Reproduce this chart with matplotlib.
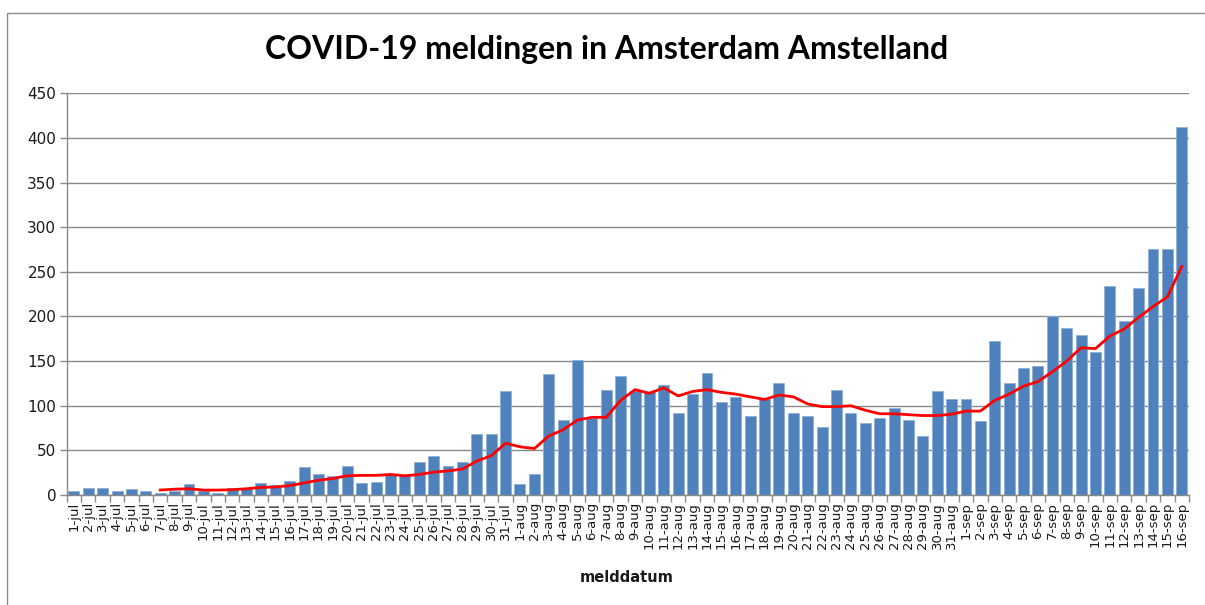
import matplotlib
matplotlib.use("Agg")
import matplotlib.pyplot as plt
from matplotlib.patches import Rectangle
from matplotlib.ticker import FixedLocator

dates = ("1-jul 2-jul 3-jul 4-jul 5-jul 6-jul 7-jul 8-jul 9-jul 10-jul 11-jul 12-jul "
         "13-jul 14-jul 15-jul 16-jul 17-jul 18-jul 19-jul 20-jul 21-jul 22-jul 23-jul "
         "24-jul 25-jul 26-jul 27-jul 28-jul 29-jul 30-jul 31-jul "
         "1-aug 2-aug 3-aug 4-aug 5-aug 6-aug 7-aug 8-aug 9-aug 10-aug 11-aug 12-aug "
         "13-aug 14-aug 15-aug 16-aug 17-aug 18-aug 19-aug 20-aug 21-aug 22-aug 23-aug "
         "24-aug 25-aug 26-aug 27-aug 28-aug 29-aug 30-aug 31-aug "
         "1-sep 2-sep 3-sep 4-sep 5-sep 6-sep 7-sep 8-sep 9-sep 10-sep 11-sep 12-sep "
         "13-sep 14-sep 15-sep 16-sep").split()

meldingen = [4, 8, 8, 5, 7, 5, 2, 5, 12, 5, 2, 8, 8, 13, 11, 16, 31, 24, 21, 33,
             13, 15, 23, 21, 37, 44, 33, 37, 68, 68, 116,
             12, 24, 136, 84, 151, 86, 118, 133, 116, 115, 123, 92, 113, 137, 104,
             110, 89, 107, 126, 92, 89, 76, 118, 92, 81, 86, 97, 84, 66, 116,
             107, 107, 83, 173, 126, 142, 144, 200, 187, 179, 160, 234, 195, 232,
             276, 276, 412]

# 7-daags gemiddelde (rode lijn), vanaf 7-jul
gemiddelde = [5.6, 6.5, 7, 5.5, 5.5, 6, 7, 8.5, 9, 10.5, 13.5, 16.5, 18.5, 21.5,
              22, 22, 23, 21.5, 23, 25.6, 27, 29, 38, 44, 58,
              54, 52, 66, 73, 84, 87, 87, 106, 118, 114, 120, 111, 116, 118, 115,
              113, 110, 107, 112, 110, 102, 99, 99, 100, 95, 91, 91, 90, 89, 89,
              90.5, 94, 94, 106, 113, 122, 127, 138, 150, 165, 164, 178, 186, 199,
              211, 222, 256]

yticks = [0, 50, 100, 150, 200, 250, 300, 350, 400, 450]

W, H = 1205, 605
fig = plt.figure(figsize=(W / 100, H / 100), dpi=100)
fig.patch.set_facecolor("white")

# outer chart frame
fig.patches.append(Rectangle((7.5 / W, -0.05), 1.2, 1 - 13 / H + 0.05,
                             transform=fig.transFigure, fill=False,
                             edgecolor="#8c8c8c", linewidth=1.0))

ax = fig.add_axes([66.7 / W, 1 - 495 / H, (1189 - 66.7) / W, (495 - 93.3) / H])

x = list(range(len(dates)))
ax.bar(x, meldingen, width=0.76, color="#4F81BD", edgecolor="#8fb0d8",
       linewidth=0.6, zorder=2)
ax.plot(x[len(dates) - len(gemiddelde):], gemiddelde, color="#ff0000",
        linewidth=2.0, zorder=3, solid_joinstyle="round")

ax.set_xlim(-0.5, len(dates) - 0.5)
ax.set_ylim(0, 450)
ax.set_yticks(yticks)
ax.yaxis.grid(True, color="#8a8a8a", linewidth=1.0, zorder=0)
ax.set_axisbelow(True)

ax.set_xticks(x)
ax.set_xticklabels(dates, rotation=90, fontsize=9.5, color="#1a1a1a",
                   family="DejaVu Sans")
ax.tick_params(axis="x", length=0, pad=5)
ax.xaxis.set_minor_locator(FixedLocator([i - 0.5 for i in range(len(dates) + 1)]))
ax.tick_params(axis="x", which="minor", length=5, color="#8a8a8a", width=1)
ax.tick_params(axis="y", length=5, color="#8a8a8a", width=1, pad=2.5,
               labelsize=11, labelcolor="#1a1a1a")

for s in ["top", "right"]:
    ax.spines[s].set_visible(False)
for s in ["left", "bottom"]:
    ax.spines[s].set_color("#8a8a8a")
    ax.spines[s].set_linewidth(1.0)

fig.text(607 / W, 1 - 49 / H, "COVID-19 meldingen in Amsterdam Amstelland",
         ha="center", va="center", fontsize=23, fontweight="bold",
         family="Lato", color="#000000")
fig.text(627 / W, 1 - 578 / H, "melddatum", ha="center", va="center",
         fontsize=10.5, fontweight="bold", family="DejaVu Sans", color="#1a1a1a")

fig.savefig("out.png", dpi=100)
